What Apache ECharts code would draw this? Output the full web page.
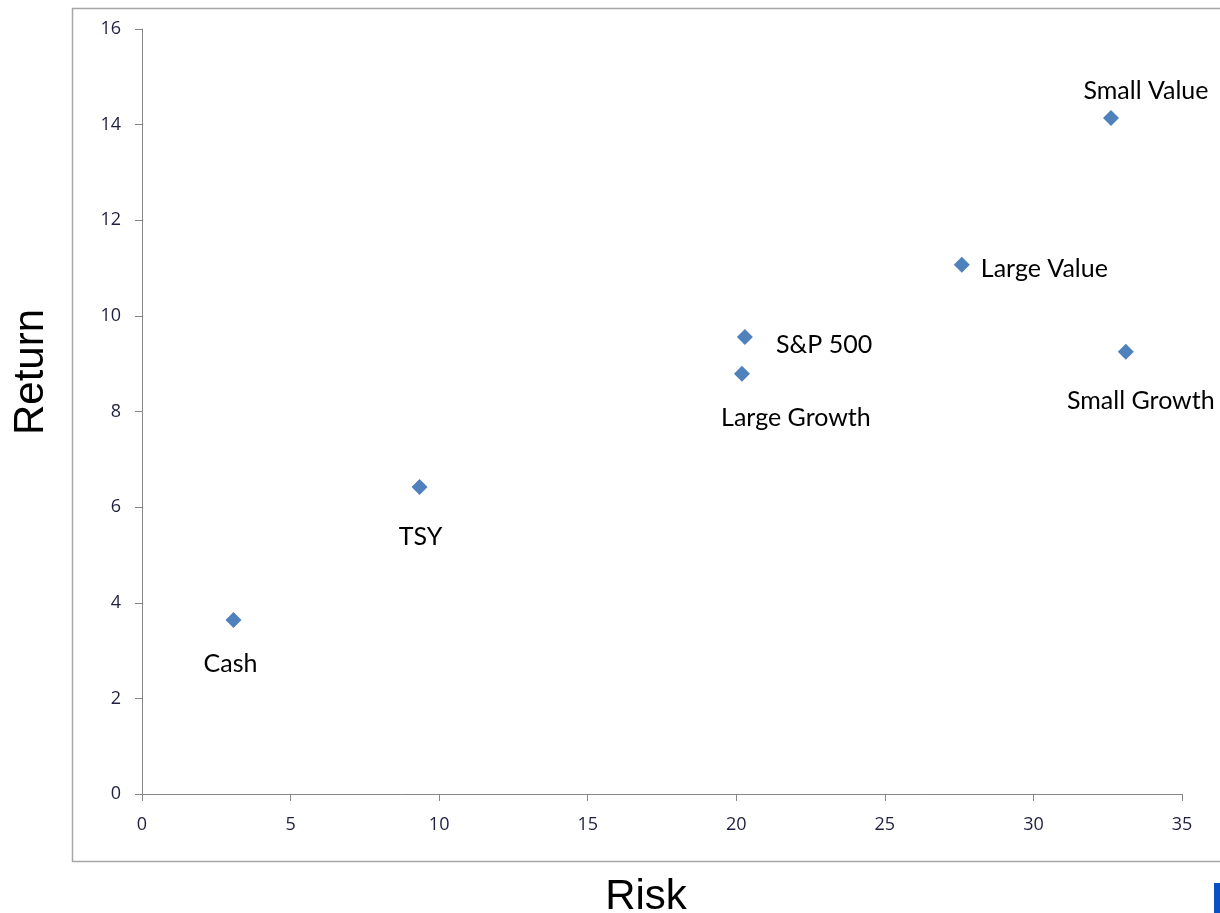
<!DOCTYPE html>
<html>
<head>
<meta charset="utf-8">
<script src="https://cdn.jsdelivr.net/npm/echarts@6/dist/echarts.min.js"></script>
<style>
  html, body { margin: 0; padding: 0; background: #fff; }
  #chart { width: 1220px; height: 913px; }
</style>
</head>
<body>
<div id="chart"></div>
<script>
// Asset classes: annualised risk (std dev, %) vs return (%)
const assets = ['Cash', 'TSY', 'S&P 500', 'Large Growth', 'Large Value', 'Small Value', 'Small Growth'];
const risk   = [3.08, 9.34, 20.29, 20.19, 27.59, 32.61, 33.11];
const ret    = [3.64, 6.42, 9.56, 8.79, 11.07, 14.14, 9.25];

// label placement per point: [position, offsetX, offsetY]
const labelPlacement = {
  'Cash':         ['inside', -3, 44],
  'TSY':          ['inside', 1, 50],
  'S&P 500':      ['right', 18, 8],
  'Large Growth': ['inside', 54, 44],
  'Large Value':  ['right', 6, 4],
  'Small Value':  ['inside', 35, -27],
  'Small Growth': ['inside', 15, 49]
};

const points = assets.map((name, i) => {
  const p = labelPlacement[name];
  return {
    name: name,
    value: [risk[i], ret[i]],
    label: { position: p[0], offset: [p[1], p[2]] }
  };
});

const chart = echarts.init(document.getElementById('chart'), null, { renderer: 'canvas' });

const axisText = { color: '#1f1f3f', fontSize: 18, fontFamily: 'Open Sans' };
const axisLineStyle = { color: '#868686', width: 1 };
const titleFont = { fontSize: 42, fontFamily: 'Liberation Sans', fill: '#000' };

chart.setOption({
  animation: false,
  backgroundColor: '#ffffff',
  grid: { left: 142, right: 38, top: 29, bottom: 119, containLabel: false, outerBoundsMode: 'none' },
  graphic: [
    {
      type: 'rect',
      shape: { x: 72.5, y: 8.5, width: 1200, height: 853 },
      style: { fill: 'none', stroke: '#a6a6a6', lineWidth: 1.5 },
      z: 0
    },
    {
      type: 'rect',
      shape: { x: 1214, y: 883, width: 8, height: 32 },
      style: { fill: '#0a4fc4' },
      z: 0
    },
    {
      type: 'text',
      x: 646, y: 897,
      style: Object.assign({ text: 'Risk', textAlign: 'center', textVerticalAlign: 'middle' }, titleFont)
    },
    {
      type: 'text',
      x: 31, y: 372,
      rotation: Math.PI / 2,
      style: Object.assign({ text: 'Return', textAlign: 'center', textVerticalAlign: 'middle' }, titleFont)
    }
  ],
  xAxis: {
    type: 'value',
    min: 0, max: 35, interval: 5,
    axisLine: { show: true, lineStyle: axisLineStyle },
    axisTick: { show: true, length: 7, lineStyle: axisLineStyle },
    axisLabel: Object.assign({ margin: 22 }, axisText),
    splitLine: { show: false }
  },
  yAxis: {
    type: 'value',
    min: 0, max: 16, interval: 2,
    axisLine: { show: true, lineStyle: axisLineStyle },
    axisTick: { show: true, length: 7, lineStyle: axisLineStyle },
    axisLabel: Object.assign({ margin: 21 }, axisText),
    splitLine: { show: false }
  },
  series: [{
    type: 'scatter',
    symbol: 'diamond',
    symbolSize: 16,
    itemStyle: { color: '#4f81bd', opacity: 1 },
    label: {
      show: true,
      formatter: '{b}',
      color: '#000',
      fontSize: 25,
      fontFamily: 'Lato'
    },
    data: points
  }]
});
</script>
</body>
</html>
